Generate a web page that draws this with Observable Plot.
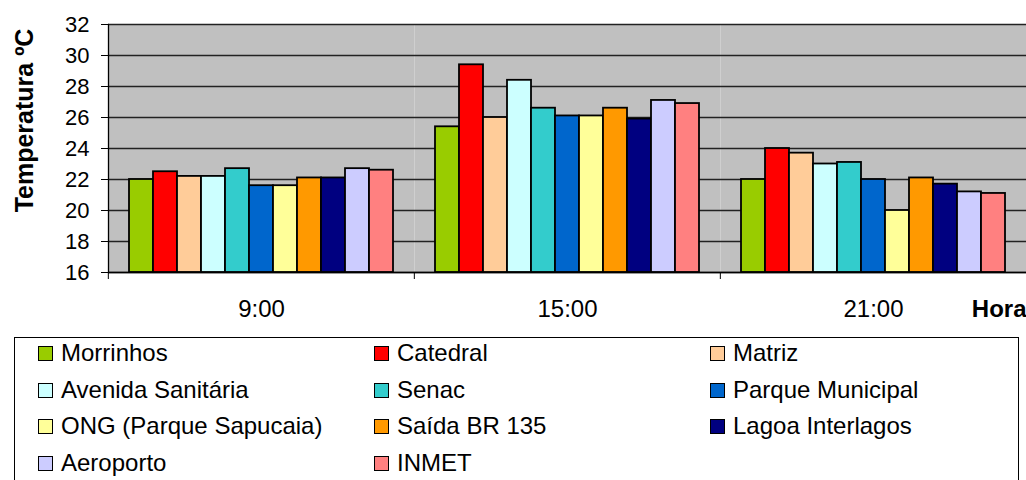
<!DOCTYPE html>
<html>
<head>
<meta charset="utf-8">
<script src="https://cdn.jsdelivr.net/npm/d3@7"></script>
<script src="https://cdn.jsdelivr.net/npm/@observablehq/plot@0.6"></script>
<style>
  body { margin: 0; background: #fff; font-family: 'Liberation Sans', Arial, sans-serif; }
  #chart svg { display: block; }
  #legend { margin: 12px 0 0 14px; width: 1005px; height: 160px; border: 1px solid #000; border-bottom: none; box-sizing: border-box; overflow: hidden; }
  #legend .grid { position: relative; top: -3px; display: grid; grid-template-columns: 336px 336px auto; padding-left: 23px; }
  #legend .item { height: 36.7px; line-height: 36.7px; font-size: 24px; color: #000; white-space: nowrap; display: flex; align-items: center; }
  #legend .sw { display: inline-block; width: 15px; height: 15px; border: 1.5px solid #000; box-sizing: border-box; margin-right: 8px; flex: none; }
</style>
</head>
<body>
<div id="chart"></div>
<div id="legend"><div class="grid"></div></div>
<script>
const hours = ["9:00", "15:00", "21:00"];
const stations = ["Morrinhos", "Catedral", "Matriz", "Avenida Sanitária", "Senac", "Parque Municipal", "ONG (Parque Sapucaia)", "Saída BR 135", "Lagoa Interlagos", "Aeroporto", "INMET"];
const colors = ["#99CC00", "#FF0000", "#FFCC99", "#CCFFFF", "#33CCCC", "#0066CC", "#FFFF99", "#FF9900", "#000080", "#CCCCFF", "#FF8080"];
const temp0900 = [22.0, 22.5, 22.2, 22.2, 22.7, 21.6, 21.6, 22.1, 22.1, 22.7, 22.6];
const temp1500 = [25.4, 29.4, 26.0, 28.4, 26.6, 26.1, 26.1, 26.6, 25.9, 27.1, 26.9];
const temp2100 = [22.0, 24.0, 23.7, 23.0, 23.1, 22.0, 20.0, 22.1, 21.7, 21.2, 21.1];
const yTicks = [16, 18, 20, 22, 24, 26, 28, 30, 32];
const yLabel = "Temperatura ºC";
const xLabel = "Hora";

const series = [temp0900, temp1500, temp2100];
const data = hours.flatMap((h, i) => stations.map((s, j) => ({hour: h, station: s, temp: series[i][j]})));
const yMin = yTicks[0], yMax = yTicks[yTicks.length - 1];

const chart = Plot.plot({
  width: 1026,
  height: 325,
  marginTop: 24,
  marginBottom: 53,
  marginLeft: 107,
  marginRight: 0,
  style: {fontFamily: "'Liberation Sans', Arial, sans-serif", fontSize: "22px", color: "#000", background: "white"},
  fx: {domain: hours, padding: 0, label: null},
  x: {domain: stations, paddingInner: 0, paddingOuter: 0.745, axis: null},
  y: {domain: [yMin, yMax], label: null},
  color: {domain: stations, range: colors},
  marks: [
    Plot.frame({fill: "#c0c0c0"}),
    Plot.gridY(yTicks, {stroke: "#222", strokeOpacity: 1, strokeWidth: 1.3}),
    Plot.barY(data, {fx: "hour", x: "station", y1: () => yMin, y2: "temp", fill: "station", stroke: "#000", strokeWidth: 1.8}),
    Plot.ruleY([yMin], {stroke: "#000", strokeWidth: 1.3}),
    Plot.frame({anchor: "left", stroke: "#000", strokeWidth: 1.3, facetAnchor: "left"}),
    Plot.axisY({ticks: yTicks, tickSize: 7, tickPadding: 12, fontSize: 22, label: null}),
    Plot.axisFx({anchor: "bottom", tickSize: 0, tickPadding: 27, fontSize: 24, label: null}),
    Plot.axisFx({anchor: "bottom", tickSize: 7, tickFormat: () => "", dx: -153.17, label: null}),
    Plot.text([xLabel], {fx: [hours[2]], frameAnchor: "bottom-right", textAnchor: "end", lineAnchor: "top", dy: 27, fontSize: 24, fontWeight: "bold"}),
    Plot.text([yLabel], {fx: [hours[0]], frameAnchor: "left", textAnchor: "middle", lineAnchor: "middle", rotate: -90, dx: -84, dy: -28, fontSize: 25, fontWeight: "bold"})
  ]
});
document.getElementById("chart").append(chart);

const grid = document.querySelector("#legend .grid");
stations.forEach((s, i) => {
  const item = document.createElement("div");
  item.className = "item";
  const sw = document.createElement("span");
  sw.className = "sw";
  sw.style.background = colors[i];
  item.append(sw, document.createTextNode(s));
  grid.append(item);
});
</script>
</body>
</html>
